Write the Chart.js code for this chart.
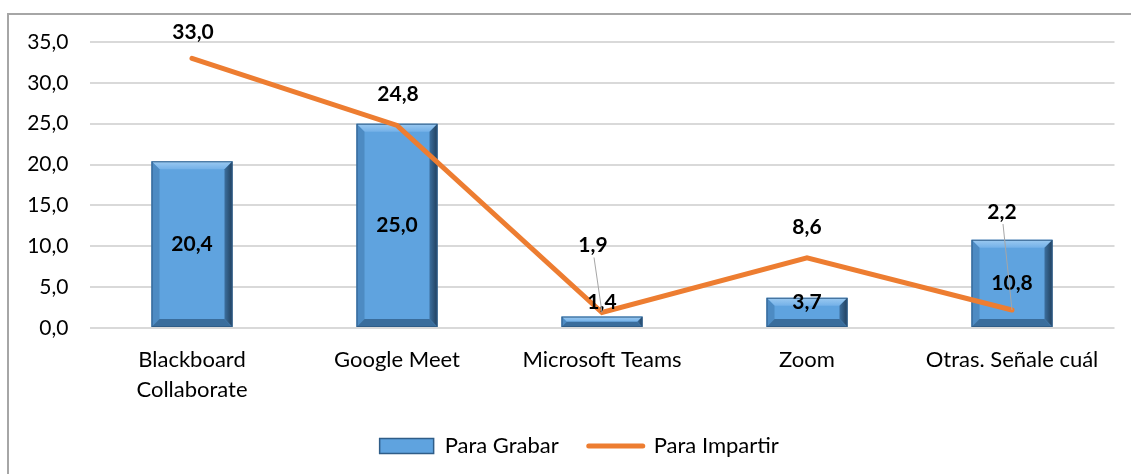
<!DOCTYPE html>
<html>
<head>
<meta charset="utf-8">
<script src="https://cdn.jsdelivr.net/npm/chart.js@4.4.1/dist/chart.umd.min.js"></script>
<style>
  html, body { margin: 0; padding: 0; background: #fff; }
  #wrap { width: 1131px; height: 474px; }
</style>
</head>
<body>
<div id="wrap"><canvas id="myChart" width="1131" height="474"></canvas></div>
<script>
// datos
var categorias = [['Blackboard', 'Collaborate'], 'Google Meet', 'Microsoft Teams', 'Zoom', 'Otras. Señale cuál'];
var paraGrabar = [20.4, 25.0, 1.4, 3.7, 10.8];
var paraImpartir = [33.0, 24.8, 1.9, 8.6, 2.2];
var yTicks = [0, 5, 10, 15, 20, 25, 30, 35];

// desplazamiento de las etiquetas de la linea (px), y si llevan linea guia
var lineLabelOffsets = [[1, -26], [1, -31], [-9, -67], [0, -30], [-10, -98]];
var lineLabelLeader = [false, false, true, false, true];

var FONT = 'Lato, "Open Sans", sans-serif';

function coma(v) {
    return Number(v).toFixed(1).replace('.', ',');
}

// marco gris del grafico
var marco = {
    id: 'marco',
    beforeDraw: function (chart) {
        var ctx = chart.ctx;
        ctx.save();
        ctx.fillStyle = '#fff';
        ctx.fillRect(0, 0, chart.width, chart.height);
        ctx.strokeStyle = '#a6a6a6';
        ctx.lineWidth = 2;
        ctx.strokeRect(8, 14, 1300, 600);
        ctx.restore();
    },
    // la leyenda va un poco a la derecha
    afterLayout: function (chart) {
        if (chart.legend) {
            chart.legend.left += 22;
            chart.legend.right += 22;
        }
    }
};

// bisel de las barras (estilo excel)
var bisel = {
    id: 'bisel',
    afterDatasetDraw: function (chart, args) {
        if (args.index !== 0) return;
        var ctx = chart.ctx;
        args.meta.data.forEach(function (bar) {
            var p = bar.getProps(['x', 'y', 'base', 'width'], true);
            var l = p.x - p.width / 2, r = p.x + p.width / 2, t = p.y, b = p.base;
            var h = b - t;
            var d = Math.min(8, h / 2, p.width / 2);
            ctx.save();
            // arriba
            var g = ctx.createLinearGradient(0, t, 0, t + d);
            g.addColorStop(0, '#9ccaf1');
            g.addColorStop(1, '#74b1e8');
            ctx.fillStyle = g;
            ctx.beginPath();
            ctx.moveTo(l, t); ctx.lineTo(r, t); ctx.lineTo(r - d, t + d); ctx.lineTo(l + d, t + d);
            ctx.closePath(); ctx.fill();
            // izquierda
            ctx.fillStyle = '#4d8bc3';
            ctx.beginPath();
            ctx.moveTo(l, t); ctx.lineTo(l + d, t + d); ctx.lineTo(l + d, b - d); ctx.lineTo(l, b);
            ctx.closePath(); ctx.fill();
            // derecha
            var g2 = ctx.createLinearGradient(r - d, 0, r, 0);
            g2.addColorStop(0, '#3c6f9e');
            g2.addColorStop(1, '#213f5c');
            ctx.fillStyle = g2;
            ctx.beginPath();
            ctx.moveTo(r, t); ctx.lineTo(r - d, t + d); ctx.lineTo(r - d, b - d); ctx.lineTo(r, b);
            ctx.closePath(); ctx.fill();
            // abajo
            ctx.fillStyle = '#3a6d9c';
            ctx.beginPath();
            ctx.moveTo(l, b); ctx.lineTo(l + d, b - d); ctx.lineTo(r - d, b - d); ctx.lineTo(r, b);
            ctx.closePath(); ctx.fill();
            ctx.strokeStyle = '#2f5d88';
            ctx.lineWidth = 1;
            ctx.strokeRect(l + 0.5, t + 0.5, p.width - 1, h - 1);
            ctx.restore();
        });
    }
};

// etiquetas de datos
var etiquetas = {
    id: 'etiquetas',
    afterDatasetsDraw: function (chart) {
        var ctx = chart.ctx;
        ctx.save();
        ctx.font = 'bold 21px ' + FONT;
        ctx.fillStyle = '#000';
        ctx.textAlign = 'center';
        ctx.textBaseline = 'middle';

        var barras = chart.getDatasetMeta(0).data;
        barras.forEach(function (bar, i) {
            var p = bar.getProps(['x', 'y', 'base'], true);
            var yy = Math.min((p.y + p.base) / 2, p.base - 25);
            ctx.fillText(coma(paraGrabar[i]), p.x, yy);
        });

        var puntos = chart.getDatasetMeta(1).data;
        puntos.forEach(function (pt, i) {
            var p = pt.getProps(['x', 'y'], true);
            var lx = p.x + lineLabelOffsets[i][0];
            var ly = p.y + lineLabelOffsets[i][1];
            if (lineLabelLeader[i]) {
                ctx.strokeStyle = '#a6a6a6';
                ctx.lineWidth = 1;
                ctx.beginPath();
                ctx.moveTo(lx + 1, ly + 12);
                ctx.lineTo(p.x, p.y);
                ctx.stroke();
            }
            ctx.fillText(coma(paraImpartir[i]), lx, ly);
        });
        ctx.restore();
    }
};

const ctx = document.getElementById('myChart');
var xx = new Chart(ctx, {
    type: 'bar',
    data: {
        labels: categorias,
        datasets: [
            {
                label: 'Para Grabar',
                data: paraGrabar,
                backgroundColor: '#5fa3df',
                borderWidth: 0,
                barPercentage: 0.395,
                categoryPercentage: 1,
                order: 1
            },
            {
                type: 'line',
                label: 'Para Impartir',
                data: paraImpartir,
                borderColor: '#ed7d31',
                backgroundColor: '#ed7d31',
                borderWidth: 5,
                borderCapStyle: 'round',
                borderJoinStyle: 'miter',
                pointRadius: 0,
                tension: 0,
                order: 0
            }
        ]
    },
    options: {
        responsive: false,
        animation: false,
        layout: { padding: { left: 0, right: 16.5, top: 42, bottom: 7 } },
        plugins: {
            tooltip: { enabled: false },
            legend: {
                display: true,
                position: 'bottom',
                labels: {
                    usePointStyle: true,
                    pointStyleWidth: 54,
                    boxHeight: 15,
                    padding: 30,
                    color: '#000',
                    font: { family: FONT, size: 22 },
                    sort: function (a, b) { return a.datasetIndex - b.datasetIndex; },
                    generateLabels: function (chart) {
                        return [
                            { text: 'Para Grabar', datasetIndex: 0, pointStyle: 'rect', fillStyle: '#5fa3df', strokeStyle: '#2f5d88', lineWidth: 1.5 },
                            { text: 'Para Impartir', datasetIndex: 1, pointStyle: 'line', fillStyle: '#ed7d31', strokeStyle: '#ed7d31', lineWidth: 5, lineCap: 'round' }
                        ];
                    }
                }
            }
        },
        scales: {
            x: {
                grid: { display: false, drawTicks: false },
                border: { display: false },
                ticks: {
                    color: '#000',
                    padding: 17,
                    maxRotation: 0,
                    autoSkip: false,
                    font: { family: FONT, size: 22, lineHeight: 1.35 }
                },
                afterFit: function (scale) { scale.height = 77; }
            },
            y: {
                min: 0,
                max: 35,
                afterBuildTicks: function (scale) {
                    scale.ticks = yTicks.map(function (v) { return { value: v }; });
                },
                grid: { color: '#d9d9d9', lineWidth: 2, drawTicks: false },
                border: { display: false },
                ticks: {
                    color: '#000',
                    padding: 21,
                    font: { family: FONT, size: 21 },
                    callback: function (v) { return coma(v); }
                },
                afterFit: function (scale) { scale.width = 89.5; }
            }
        }
    },
    plugins: [marco, bisel, etiquetas]
});
</script>
</body>
</html>
